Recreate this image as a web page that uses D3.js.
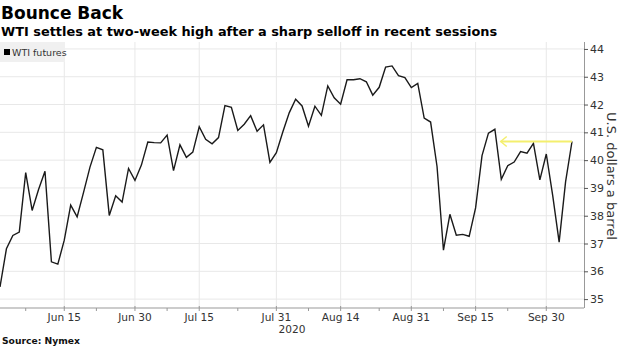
<!DOCTYPE html>
<html><head><meta charset="utf-8">
<script src="https://cdn.jsdelivr.net/npm/d3@7"></script>
<style>
body{margin:0;background:#fff;}
svg{display:block;}
</style></head>
<body><svg id="c" width="620" height="348"></svg>
<script>
const dates = [
"2020-06-01","2020-06-02","2020-06-03","2020-06-04","2020-06-05","2020-06-08","2020-06-09","2020-06-10","2020-06-11","2020-06-12",
"2020-06-15","2020-06-16","2020-06-17","2020-06-18","2020-06-19","2020-06-22","2020-06-23","2020-06-24","2020-06-25","2020-06-26",
"2020-06-29","2020-06-30","2020-07-01","2020-07-02","2020-07-06","2020-07-07","2020-07-08","2020-07-09","2020-07-10","2020-07-13",
"2020-07-14","2020-07-15","2020-07-16","2020-07-17","2020-07-20","2020-07-21","2020-07-22","2020-07-23","2020-07-24","2020-07-27",
"2020-07-28","2020-07-29","2020-07-30","2020-07-31","2020-08-03","2020-08-04","2020-08-05","2020-08-06","2020-08-07","2020-08-10",
"2020-08-11","2020-08-12","2020-08-13","2020-08-14","2020-08-17","2020-08-18","2020-08-19","2020-08-20","2020-08-21","2020-08-24",
"2020-08-25","2020-08-26","2020-08-27","2020-08-28","2020-08-31","2020-09-01","2020-09-02","2020-09-03","2020-09-04","2020-09-08",
"2020-09-09","2020-09-10","2020-09-11","2020-09-14","2020-09-15","2020-09-16","2020-09-17","2020-09-18","2020-09-21","2020-09-22",
"2020-09-23","2020-09-24","2020-09-25","2020-09-28","2020-09-29","2020-09-30","2020-10-01","2020-10-02","2020-10-05","2020-10-06"];
const wti = [
35.44,36.81,37.29,37.41,39.55,38.19,38.94,39.60,36.34,36.26,
37.12,38.38,37.96,38.84,39.75,40.46,40.37,38.01,38.72,38.49,
39.70,39.27,39.82,40.65,40.63,40.62,40.90,39.62,40.55,40.10,
40.29,41.20,40.75,40.59,40.81,41.96,41.90,41.07,41.29,41.60,
41.04,41.27,39.92,40.27,41.01,41.70,42.19,41.95,41.22,41.94,
41.61,42.67,42.24,42.01,42.89,42.89,42.93,42.82,42.34,42.62,
43.35,43.39,43.04,42.97,42.61,42.76,41.51,41.37,39.77,36.76,
38.05,37.30,37.33,37.26,38.28,40.16,40.97,41.11,39.31,39.80,
39.93,40.31,40.25,40.60,39.29,40.22,38.72,37.05,39.22,40.67];
const majorTickDates = ["2020-06-15","2020-06-30","2020-07-15","2020-07-31","2020-08-14","2020-08-31","2020-09-15","2020-09-30"];
const majorTickLabels = ["Jun 15","Jun 30","Jul 15","Jul 31","Aug 14","Aug 31","Sep 15","Sep 30"];
const minorTickDates = ["2020-06-05","2020-06-22","2020-07-08","2020-07-23","2020-08-07","2020-08-24","2020-09-08","2020-09-22"];
const yTicks = [35,36,37,38,39,40,41,42,43,44];
const arrowFrom = "2020-10-06", arrowTo = "2020-09-22", arrowValue = 40.67;

const svg = d3.select("#c");
const L = 0, R = 584, T = 42, B = 308;
const x = d3.scalePoint().domain(dates).range([0, 572]);
const y = d3.scaleLinear().domain([34.68, 44.25]).range([B, T]);
const font = "DejaVu Sans, Verdana, sans-serif";

// titles
svg.append("text").attr("x",1).attr("y",19).attr("font-family",font).attr("font-weight","bold")
  .attr("font-size",17).attr("fill","#000").text("Bounce Back");
svg.append("text").attr("x",1).attr("y",36).attr("font-family",font).attr("font-weight","bold")
  .attr("font-size",12.9).attr("fill","#000").text("WTI settles at two-week high after a sharp selloff in recent sessions");

// grid
const g = svg.append("g");
g.selectAll("line.h").data(yTicks).join("line")
  .attr("x1",L).attr("x2",R).attr("y1",d=>y(d)).attr("y2",d=>y(d))
  .attr("stroke","#e8e8e8").attr("stroke-width",1);
g.selectAll("line.v").data(majorTickDates).join("line")
  .attr("x1",d=>x(d)).attr("x2",d=>x(d)).attr("y1",T).attr("y2",B)
  .attr("stroke","#e8e8e8").attr("stroke-width",1);

// legend
svg.append("rect").attr("x",0).attr("y",T).attr("width",65).attr("height",20).attr("fill","#f0f0f0");
svg.append("rect").attr("x",4).attr("y",49).attr("width",6).attr("height",6).attr("fill","#000");
svg.append("text").attr("x",12).attr("y",56).attr("font-family",font).attr("font-size",9.5)
  .attr("fill","#333").text("WTI futures");

// line
const line = d3.line().x((d,i)=>x(dates[i])).y(d=>y(d));
svg.append("path").datum(wti).attr("d",line).attr("fill","none")
  .attr("stroke","#1a1a1a").attr("stroke-width",1.4).attr("stroke-linejoin","miter");

// arrow
const ay = y(arrowValue);
const ax0 = x(arrowFrom), ax1 = x(arrowTo) - 7;
svg.append("line").attr("x1",ax0).attr("x2",ax1).attr("y1",ay).attr("y2",ay)
  .attr("stroke","#f4ef6e").attr("stroke-width",1.8);
svg.append("path").attr("d",`M${ax1+6},${ay-5}L${ax1},${ay}L${ax1+6},${ay+5}`)
  .attr("fill","none").attr("stroke","#f4ef6e").attr("stroke-width",1.5);

// x axis
svg.append("line").attr("x1",L).attr("x2",R).attr("y1",B).attr("y2",B).attr("stroke","#999").attr("stroke-width",1.2);
svg.selectAll("line.mt").data(majorTickDates).join("line")
  .attr("x1",d=>x(d)).attr("x2",d=>x(d)).attr("y1",B-2).attr("y2",B+3).attr("stroke","#999");
svg.selectAll("line.nt").data(minorTickDates).join("line")
  .attr("x1",d=>x(d)).attr("x2",d=>x(d)).attr("y1",B).attr("y2",B+3).attr("stroke","#999");
svg.selectAll("text.xl").data(majorTickDates).join("text")
  .attr("x",d=>x(d)).attr("y",321).attr("text-anchor","middle").attr("font-family",font)
  .attr("font-size",10.6).attr("fill","#333").text((d,i)=>majorTickLabels[i]);
svg.append("text").attr("x",292).attr("y",333).attr("text-anchor","middle").attr("font-family",font)
  .attr("font-size",10.6).attr("fill","#333").text("2020");

// y axis
const yAxis = d3.axisRight(y).tickValues(yTicks).tickSize(4).tickPadding(2).tickFormat(d3.format("d"));
const ya = svg.append("g").attr("transform",`translate(${R},0)`).call(yAxis);
ya.select(".domain").attr("d",`M0.5,${T}V${B}`).attr("stroke","#999");
ya.selectAll(".tick line").attr("stroke","#555");
ya.selectAll(".tick text").attr("font-family",font).attr("font-size",11).attr("fill","#333");
svg.append("text").attr("transform","translate(607,176) rotate(90)").attr("text-anchor","middle")
  .attr("font-family",font).attr("font-size",13).attr("fill","#333").text("U.S. dollars a barrel");

// source
svg.append("text").attr("x",2).attr("y",344).attr("font-family",font).attr("font-weight","bold")
  .attr("font-size",9.2).attr("fill","#111").text("Source: Nymex");
</script></body></html>
